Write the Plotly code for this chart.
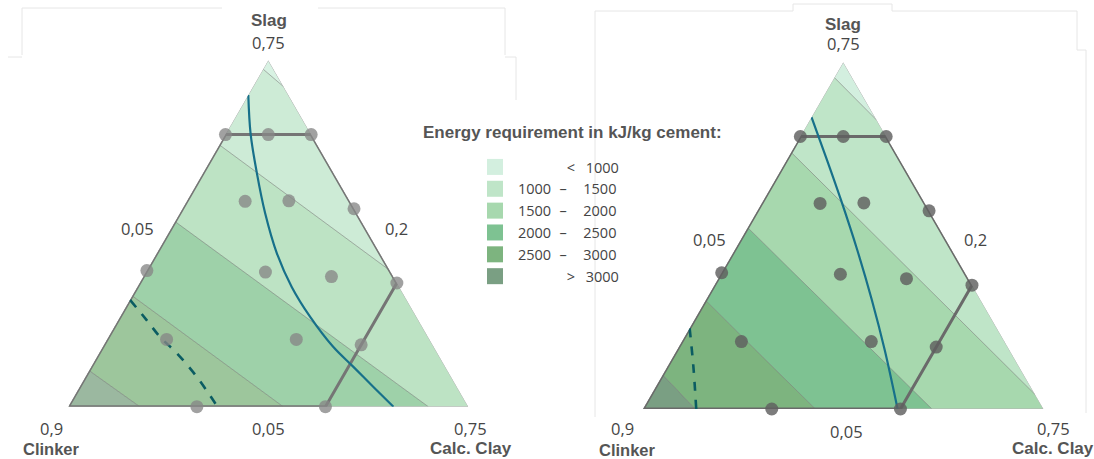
import plotly.graph_objects as go

W, H = 1094, 459

# ---------------- data (compositions as mass fractions) ----------------
# every composition is given as (slag, calcined clay); clinker = 1 - slag - clay
band_low = [None, 1000, 1500, 2000, 2500, 3000]
band_high = [1000, 1500, 2000, 2500, 3000, None]
legend_colors = ["#d3efdf", "#bfe5c8", "#a7d8ae", "#7ec292", "#7db47f", "#7a9f83"]
left_colors = ["#d8f2e3", "#cdebd6", "#bde3c4", "#9ed1a9", "#9dc69c", "#9bb8a0"]
right_colors = ["#d3efdf", "#bfe5c8", "#a7d8ae", "#7ec292", "#7db47f", "#7a9f83"]

# contour boundaries (1000, 1500, 2000, 2500, 3000 kJ/kg), start/end points
left_bound_start_slag = [0.732, 0.579, 0.424, 0.274, 0.123]
left_bound_start_clay = [0.05, 0.05, 0.05, 0.05, 0.05]
left_bound_end_slag = [0.697, 0.326, 0.05, 0.05, 0.05]
left_bound_end_clay = [0.103, 0.474, 0.68, 0.426, 0.175]

right_bound_start_slag = [0.719, 0.568, 0.416, 0.269, 0.119]
right_bound_start_clay = [0.05, 0.05, 0.05, 0.05, 0.05]
right_bound_end_slag = [0.633, 0.079, 0.05, 0.05, 0.05]
right_bound_end_clay = [0.167, 0.721, 0.555, 0.351, 0.141]

# investigated region (pentagon)
region_slag = [0.05, 0.60, 0.60, 0.30, 0.05, 0.05]
region_clay = [0.05, 0.05, 0.20, 0.50, 0.50, 0.05]

# mixture design points
design_slag = [0.05, 0.60, 0.60, 0.60, 0.45, 0.30, 0.175, 0.05, 0.05, 0.325,
               0.465, 0.466, 0.322, 0.313, 0.186, 0.186]
design_clay = [0.05, 0.05, 0.125, 0.20, 0.35, 0.50, 0.50, 0.50, 0.275, 0.05,
               0.152, 0.228, 0.259, 0.379, 0.154, 0.381]

# curves
left_solid_slag = [0.680, 0.602, 0.522, 0.441, 0.360, 0.292, 0.232, 0.171, 0.131, 0.090, 0.05]
left_solid_clay = [0.05, 0.093, 0.144, 0.199, 0.260, 0.320, 0.382, 0.453, 0.508, 0.564, 0.619]
left_dash_slag = [0.266, 0.225, 0.191, 0.158, 0.111, 0.05]
left_dash_clay = [0.05, 0.0996, 0.140, 0.186, 0.244, 0.311]
right_solid_slag = [0.639, 0.553, 0.472, 0.371, 0.270, 0.169, 0.05]
right_solid_clay = [0.05, 0.120, 0.185, 0.264, 0.340, 0.413, 0.495]
right_dash_slag = [0.213, 0.136, 0.05]
right_dash_clay = [0.05, 0.095, 0.143]

# axis limits
slag_min, clinker_min, clay_min = 0.05, 0.20, 0.05
corner_labels = ["0,75", "0,9", "0,75"]
edge_labels = ["0,05", "0,2", "0,05"]
axis_titles = ["Slag", "Clinker", "Calc. Clay"]
legend_title = "Energy requirement in kJ/kg cement:"


# ---------------- helpers ----------------
def clk(s, c):
    return [round(1 - a - b, 6) for a, b in zip(s, c)]


def clip(poly, p1, p2, sign):
    def f(p):
        return (p2[0] - p1[0]) * (p[1] - p1[1]) - (p2[1] - p1[1]) * (p[0] - p1[0])

    out = []
    n = len(poly)
    for i in range(n):
        cur, prev = poly[i], poly[i - 1]
        fc, fp = f(cur) * sign, f(prev) * sign
        if fc >= 0:
            if fp < 0:
                t = fp / (fp - fc)
                out.append((prev[0] + t * (cur[0] - prev[0]), prev[1] + t * (cur[1] - prev[1])))
            out.append(cur)
        elif fp >= 0:
            t = fp / (fp - fc)
            out.append((prev[0] + t * (cur[0] - prev[0]), prev[1] + t * (cur[1] - prev[1])))
    return out


def band_polys(ss, sc, es, ec):
    apex = (1 - clinker_min - clay_min, clay_min)
    tri = [apex, (slag_min, clay_min), (slag_min, 1 - clinker_min - slag_min)]
    lines = [((a, b), (c, d)) for a, b, c, d in zip(ss, sc, es, ec)]

    def side(l, p):
        p1, p2 = l
        v = (p2[0] - p1[0]) * (p[1] - p1[1]) - (p2[1] - p1[1]) * (p[0] - p1[0])
        return 1 if v > 0 else -1

    polys = []
    for k in range(len(lines) + 1):
        poly = list(tri)
        if k > 0:
            l = lines[k - 1]
            poly = clip(poly, l[0], l[1], -side(l, apex))
        if k < len(lines):
            l = lines[k]
            poly = clip(poly, l[0], l[1], side(l, apex))
        polys.append(poly)
    return polys


fig = go.Figure()


def add_panel(sub, colors, ss, sc, es, ec, solid, dash, point_color, hex_color):
    for poly, col in zip(band_polys(ss, sc, es, ec), colors):
        s = [p[0] for p in poly] + [poly[0][0]]
        c = [p[1] for p in poly] + [poly[0][1]]
        fig.add_trace(go.Scatterternary(a=s, b=clk(s, c), c=c, subplot=sub, mode="lines",
                                        fill="toself", fillcolor=col, line=dict(width=0, color=col),
                                        showlegend=False, hoverinfo="skip"))
    for a, b, c, d in zip(ss, sc, es, ec):
        fig.add_trace(go.Scatterternary(a=[a, c], b=clk([a, c], [b, d]), c=[b, d], subplot=sub,
                                        mode="lines", line=dict(color="rgba(90,90,90,0.5)", width=0.9),
                                        showlegend=False, hoverinfo="skip"))
    # outer triangle
    ts = [1 - clinker_min - clay_min, slag_min, slag_min, 1 - clinker_min - clay_min]
    tc = [clay_min, clay_min, 1 - clinker_min - slag_min, clay_min]
    fig.add_trace(go.Scatterternary(a=ts, b=clk(ts, tc), c=tc, subplot=sub, mode="lines",
                                    line=dict(color="#b3b3b3", width=1), showlegend=False, hoverinfo="skip"))
    fig.add_trace(go.Scatterternary(a=region_slag, b=clk(region_slag, region_clay), c=region_clay,
                                    subplot=sub, mode="lines", line=dict(color=hex_color, width=3),
                                    showlegend=False, hoverinfo="skip", cliponaxis=False))
    fig.add_trace(go.Scatterternary(a=solid[0], b=clk(*solid), c=solid[1], subplot=sub, mode="lines",
                                    line=dict(color="#17708a", width=2.2, shape="spline"),
                                    showlegend=False, hoverinfo="skip"))
    fig.add_trace(go.Scatterternary(a=dash[0], b=clk(*dash), c=dash[1], subplot=sub, mode="lines",
                                    line=dict(color="#0b5c62", width=2.6, dash="dash", shape="spline"),
                                    showlegend=False, hoverinfo="skip"))
    fig.add_trace(go.Scatterternary(a=design_slag, b=clk(design_slag, design_clay), c=design_clay,
                                    subplot=sub, mode="markers", cliponaxis=False,
                                    marker=dict(size=13, color=point_color, line=dict(width=0)),
                                    showlegend=False, hoverinfo="skip"))


add_panel("ternary", left_colors, left_bound_start_slag, left_bound_start_clay,
          left_bound_end_slag, left_bound_end_clay,
          (left_solid_slag, left_solid_clay), (left_dash_slag, left_dash_clay),
          "rgba(135,135,135,0.78)", "#757575")
add_panel("ternary2", right_colors, right_bound_start_slag, right_bound_start_clay,
          right_bound_end_slag, right_bound_end_clay,
          (right_solid_slag, right_solid_clay), (right_dash_slag, right_dash_clay),
          "rgba(95,95,95,0.82)", "#6a6a6a")

# legend entries
FS = "\u2007"


def band_label(lo, hi):
    if lo is None:
        return FS * 5 + "\u2002<" + FS + "\u2009" + str(hi)
    if hi is None:
        return FS * 5 + "\u2002>" + FS + "\u2009" + str(lo)
    return str(lo) + FS + "–" + FS + FS + str(hi)


for lo, hi, col in zip(band_low, band_high, legend_colors):
    fig.add_trace(go.Scatterternary(a=[None], b=[None], c=[None], subplot="ternary", mode="markers",
                                    marker=dict(symbol="square", size=16, color=col, line=dict(width=0)),
                                    name=band_label(lo, hi), showlegend=True))


def tern(dx, dy):
    ax = dict(showticklabels=False, ticks="", showgrid=False, showline=False, title=dict(text=""))
    return dict(domain=dict(x=dx, y=dy), sum=1, bgcolor="rgba(0,0,0,0)",
                aaxis=dict(ax, min=slag_min), baxis=dict(ax, min=clinker_min),
                caxis=dict(ax, min=clay_min))


def px(x):
    return x / W


def py(y):
    return 1 - y / H


annotations = []
num_font = dict(family="Open Sans", size=16.5, color="#454545")
ttl_font = dict(family="Liberation Sans", size=17, color="#555555")
ttl_font_small = dict(family="Liberation Sans", size=16.5, color="#555555")


def txt(x, y, s, font):
    annotations.append(dict(x=px(x), y=py(y), xref="paper", yref="paper", text=s, showarrow=False,
                            xanchor="center", yanchor="middle", font=font))


for pos in [dict(slag=(269, 21), top=(268, 42), left=(137, 229), right=(396, 229),
                 clk=(51, 428), clkt=(51, 449), bottom=(268, 428), clay=(471, 428),
                 clayt=(471, 448)),
            dict(slag=(843, 24), top=(843, 44), left=(709, 239), right=(975, 239),
                 clk=(622, 428), clkt=(627, 449.5), bottom=(846, 431), clay=(1053, 428),
                 clayt=(1053, 448))]:
    txt(*pos["slag"], "<b>" + axis_titles[0] + "</b>", ttl_font)
    txt(*pos["top"], corner_labels[0], num_font)
    txt(*pos["left"], edge_labels[0], num_font)
    txt(*pos["right"], edge_labels[1], num_font)
    txt(*pos["clk"], corner_labels[1], num_font)
    txt(*pos["clkt"], "<b>" + axis_titles[1] + "</b>", ttl_font_small)
    txt(*pos["bottom"], edge_labels[2], num_font)
    txt(*pos["clay"], corner_labels[2], num_font)
    txt(*pos["clayt"], "<b>" + axis_titles[2] + "</b>", ttl_font)

txt(572, 132, "<b>" + legend_title + "</b>", ttl_font)

# faint frame lines of the original composite
frame = [(22, 8, 222, 8), (318, 8, 505, 8), (22, 8, 22, 55), (505, 8, 505, 55),
         (595, 11, 793, 11), (892, 11, 1077, 11), (595, 11, 595, 417), (793, 4, 892, 4),
         (793, 4, 793, 11), (892, 4, 892, 11), (1077, 11, 1077, 50), (1077, 50, 1086, 50),
         (1086, 50, 1086, 413), (505, 57, 516, 57), (516, 57, 516, 100), (8, 57, 22, 57)]
shapes = [dict(type="line", xref="paper", yref="paper", x0=px(a), y0=py(b), x1=px(c), y1=py(d),
               line=dict(color="#e6e6e6", width=1), layer="below") for a, b, c, d in frame]

fig.update_layout(
    width=W, height=H, margin=dict(l=0, r=0, t=0, b=0),
    paper_bgcolor="white", plot_bgcolor="white",
    ternary=tern([px(68.3), px(468.3)], [py(406.7), py(60.3)]),
    ternary2=tern([px(643), px(1043.5)], [py(409), py(62.2)]),
    annotations=annotations, shapes=shapes,
    legend=dict(x=px(472), xanchor="left", y=py(151), yanchor="top",
                font=dict(family="Open Sans", size=14.5, color="#444444"),
                bgcolor="rgba(0,0,0,0)", tracegroupgap=0, itemwidth=36),
    showlegend=True,
)

fig.write_html("out.html", config={"displayModeBar": False},
               post_script="document.body.style.margin='0px';document.body.style.overflow='hidden';")
